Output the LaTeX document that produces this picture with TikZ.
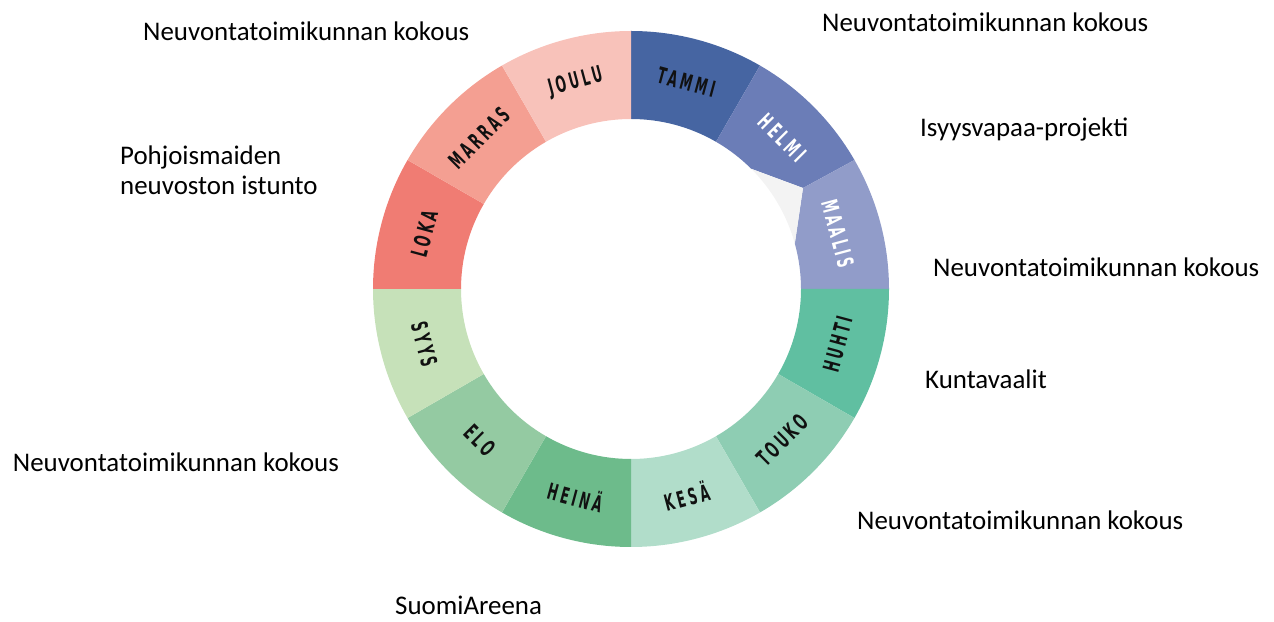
\documentclass[tikz,border=0pt]{standalone}
\usepackage{fontspec}
\setmainfont{Carlito}
\newfontfamily\mfont{DejaVu Sans}[FakeStretch=0.55, LetterSpace=14]
\usetikzlibrary{calc}
\definecolor{ctammi}{HTML}{4665A2}
\definecolor{chelmi}{HTML}{6B7DB7}
\definecolor{cmaalis}{HTML}{919CC9}
\definecolor{chuhti}{HTML}{60BFA1}
\definecolor{ctouko}{HTML}{8ECDB3}
\definecolor{ckesa}{HTML}{B1DDCA}
\definecolor{cheina}{HTML}{6DBB8B}
\definecolor{celo}{HTML}{94CAA2}
\definecolor{csyys}{HTML}{C6E1B9}
\definecolor{cloka}{HTML}{F07C73}
\definecolor{cmarras}{HTML}{F49F92}
\definecolor{cjoulu}{HTML}{F8C2BA}
\definecolor{cpatch}{HTML}{F3F3F3}
\definecolor{ctxt}{HTML}{111111}
\newcommand\mysector[3]{\fill[#3] ($(c)+(#1:258pt)$) arc[start angle=#1,end angle=#2,radius=258pt] -- ($(c)+(#2:170pt)$) arc[start angle=#2,end angle=#1,radius=170pt] -- cycle;}
\begin{document}
\begin{tikzpicture}[x=1pt,y=1pt,
  lab/.style={font=\mfont\bfseries\fontsize{22.5}{22.5}\selectfont, inner sep=0pt, text=ctxt},
  ev/.style={font=\fontsize{26.9}{30}\selectfont, inner sep=0pt, anchor=base west, text=black}]
\useasboundingbox (0,0) rectangle (1274,621);
\coordinate (c) at (631,332);
\coordinate (kink) at (803,433);
% sectors
\mysector{90}{60}{ctammi}
\fill[chelmi] ($(c)+(60:258pt)$) arc[start angle=60,end angle=30,radius=258pt] -- (kink) -- ($(c)+(45:170pt)$) arc[start angle=45,end angle=60,radius=170pt] -- cycle;
\fill[cmaalis] ($(c)+(30:258pt)$) arc[start angle=30,end angle=0,radius=258pt] -- ($(c)+(0:170pt)$) arc[start angle=0,end angle=15.5,radius=170pt] -- (kink) -- cycle;
\fill[cpatch] ($(c)+(45:170pt)$) -- (kink) -- ($(c)+(15.5:170pt)$) arc[start angle=15.5,end angle=45,radius=170pt] -- cycle;
\mysector{0}{-30}{chuhti}
\mysector{-30}{-60}{ctouko}
\mysector{-60}{-90}{ckesa}
\mysector{-90}{-120}{cheina}
\mysector{-120}{-150}{celo}
\mysector{-150}{-180}{csyys}
\mysector{180}{150}{cloka}
\mysector{150}{120}{cmarras}
\mysector{120}{90}{cjoulu}
% month labels
\node[lab, rotate=-15] (mtammi) at ($(c)+(75:214pt)$) {TAMMI};
\node[lab, rotate=-45, text=white] (mhelmi) at ($(c)+(45:214pt)$) {HELMI};
\node[lab, rotate=-75, text=white] (mmaalis) at ($(c)+(15:214pt)$) {MAALIS};
\node[lab, rotate=75] (mhuhti) at ($(c)+(-15:214pt)$) {HUHTI};
\node[lab, rotate=45] (mtouko) at ($(c)+(-45:214pt)$) {TOUKO};
\node[lab, rotate=15] (mkesa) at ($(c)+(-75:214pt)$) {KESÄ};
\node[lab, rotate=-15] (mheina) at ($(c)+(-105:214pt)$) {HEINÄ};
\node[lab, rotate=-45] (melo) at ($(c)+(-135:214pt)$) {ELO};
\node[lab, rotate=-75] (msyys) at ($(c)+(-165:214pt)$) {SYYS};
\node[lab, rotate=75] (mloka) at ($(c)+(165:214pt)$) {LOKA};
\node[lab, rotate=45] (mmarras) at ($(c)+(135:214pt)$) {MARRAS};
\node[lab, rotate=15] (mjoulu) at ($(c)+(105:214pt)$) {JOULU};
% events
\node[ev] (e1) at (143,580.3) {Neuvontatoimikunnan kokous};
\node[ev] (e2) at (822,589) {Neuvontatoimikunnan kokous};
\node[ev] (e3) at (920,484.3) {Isyysvapaa-projekti};
\node[ev] (e4) at (120,456) {Pohjoismaiden};
\node[ev] (e5) at (120,426) {neuvoston istunto};
\node[ev] (e6) at (933,344.3) {Neuvontatoimikunnan kokous};
\node[ev] (e7) at (925,232) {Kuntavaalit};
\node[ev] (e8) at (12.7,149.3) {Neuvontatoimikunnan kokous};
\node[ev] (e9) at (857,91) {Neuvontatoimikunnan kokous};
\node[ev] (e10) at (395,7) {SuomiAreena};
\end{tikzpicture}
\end{document}
